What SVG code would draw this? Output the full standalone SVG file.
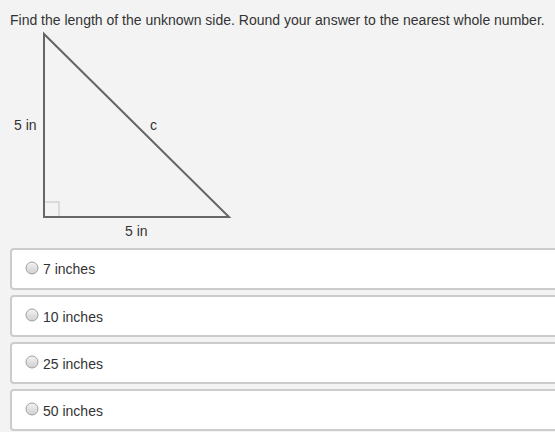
<svg xmlns="http://www.w3.org/2000/svg" width="555" height="432" viewBox="0 0 555 432">
<style>
text{font-family:"Liberation Sans",Arial,sans-serif;fill:#333}
.q{font-size:14px}
.lbl{font-size:14px;fill:#333}
.opt{font-size:14px}
.box{fill:#fff;stroke:#cccccc;stroke-width:2}
.radio{fill:url(#rg);stroke:#a0a0a0;stroke-width:1}
</style>
<defs>
<linearGradient id="rg" x1="0" y1="0" x2="0" y2="1">
<stop offset="0" stop-color="#f4f4f4"/>
<stop offset="1" stop-color="#cfcfcf"/>
</linearGradient>
</defs>
<rect width="555" height="432" fill="#f3f3f3"/>
<text class="q" x="10" y="25">Find the length of the unknown side. Round your answer to the nearest whole number.</text>
<g id="triangle">
<rect x="44" y="202" width="15" height="15" fill="none" stroke="#c4c4c4" stroke-width="1"/>
<path d="M44 34 L44 217 L229 217 Z" fill="none" stroke="#666" stroke-width="2" stroke-linejoin="miter"/>
<text class="lbl" x="14" y="130">5 in</text>
<text class="lbl" x="150" y="130">c</text>
<text class="lbl" x="125" y="236">5 in</text>
</g>
<g id="opt1">
<rect class="box" x="11" y="249" width="552" height="40" rx="3"/>
<circle class="radio" cx="32" cy="268" r="6"/>
<text class="opt" x="43" y="274">7 inches</text>
</g>
<g id="opt2">
<rect class="box" x="11" y="296" width="552" height="40" rx="3"/>
<circle class="radio" cx="32" cy="315" r="6"/>
<text class="opt" x="43" y="322">10 inches</text>
</g>
<g id="opt3">
<rect class="box" x="11" y="343" width="552" height="40" rx="3"/>
<circle class="radio" cx="32" cy="362" r="6"/>
<text class="opt" x="43" y="369">25 inches</text>
</g>
<g id="opt4">
<rect class="box" x="11" y="390" width="552" height="40" rx="3"/>
<circle class="radio" cx="32" cy="409" r="6"/>
<text class="opt" x="43" y="416">50 inches</text>
</g>
</svg>
